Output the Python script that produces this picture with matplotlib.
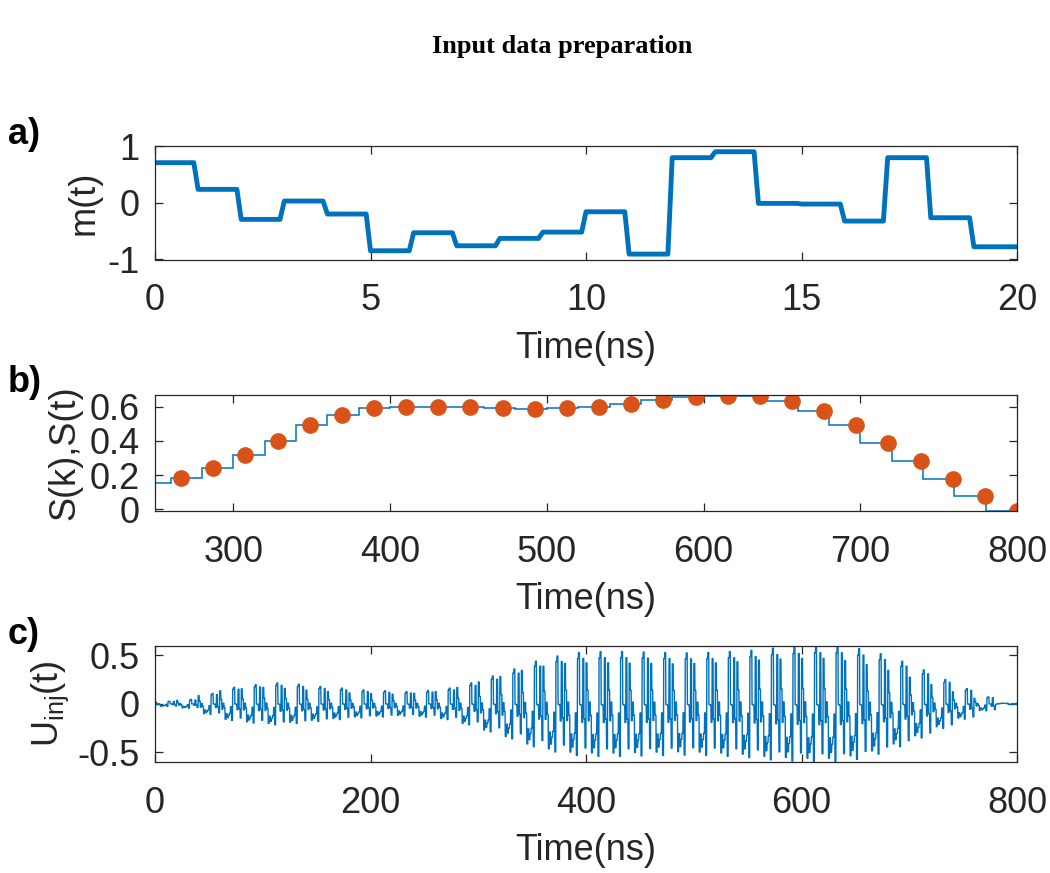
import numpy as np
import matplotlib
matplotlib.use("Agg")
import matplotlib.pyplot as plt

# ---------------- data ----------------
# mask levels m(t), one per ns (20 ns period)
mask_levels = [0.706, 0.236, -0.293, 0.030, -0.199, -0.846, -0.529, -0.758, -0.628, -0.517,
               -0.159, -0.905, 0.794, 0.899, -0.011, -0.023, -0.323, 0.794, -0.264, -0.776]
mask_period = 20.0        # ns
mask_step = 1.0           # ns per mask entry

# input samples S(k), one per 20 ns hold interval (k = 0..39)
S_levels = [0.03, 0.05, 0.12, 0.19, 0.22, 0.24, 0.225, 0.20, 0.18, 0.16,
            0.15, 0.14, 0.152, 0.18, 0.24, 0.32, 0.40, 0.49, 0.55, 0.59,
            0.60, 0.60, 0.595, 0.59, 0.585, 0.59, 0.60, 0.615, 0.64, 0.655,
            0.665, 0.665, 0.635, 0.575, 0.49, 0.39, 0.28, 0.175, 0.08, -0.008]
total_time = 800.0        # ns
first_shown_sample = 13   # S(k) markers shown for k >= 13

xticks_a = [0, 5, 10, 15, 20]
xticks_b = [300, 400, 500, 600, 700, 800]
xticks_c = [0, 200, 400, 600, 800]
yticks_a = [-1, 0, 1]
yticks_b = [0, 0.2, 0.4, 0.6]
yticks_c = [-0.5, 0, 0.5]

# ---------------- derived signals ----------------
dt = 0.1
n_mask = len(mask_levels)
t_a = np.arange(0, mask_period + dt / 2, dt)
idx_a = np.minimum((t_a / mask_step + 1e-9).astype(int), n_mask - 1)
m_t = np.array(mask_levels)[idx_a]

n_S = len(S_levels)
hold = total_time / n_S
t_c = np.arange(0, total_time + dt / 2, dt)
kS = np.minimum((t_c / hold + 1e-9).astype(int), n_S - 1)
km = np.minimum(((t_c % mask_period) / mask_step + 1e-9).astype(int), n_mask - 1)
U = np.array(S_levels)[kS] * np.array(mask_levels)[km]

edges_b = np.arange(n_S + 1) * hold
k_pts = np.arange(first_shown_sample, n_S)
t_pts = k_pts * total_time / (n_S - 1)
S_pts = np.array(S_levels)[k_pts]

# ---------------- style ----------------
plt.rcParams['font.family'] = ['Liberation Sans', 'DejaVu Sans']
plt.rcParams['axes.unicode_minus'] = False
axcol = '#262626'
blue = '#0072BD'
orange = '#D95319'
fs = 26

W, H = 1050, 873
fig = plt.figure(figsize=(W / 100, H / 100), dpi=100)

def make_ax(top, bottom):
    ax = fig.add_axes([155 / W, (H - bottom) / H, 862 / W, (bottom - top) / H])
    for s in ax.spines.values():
        s.set_color(axcol)
        s.set_linewidth(0.9)
    ax.tick_params(direction='in', length=6, width=0.9, colors=axcol,
                   top=True, right=True, labelsize=fs)
    ax.tick_params(axis='x', pad=17)
    ax.tick_params(axis='y', pad=11)
    return ax

ax_a = make_ax(146, 259.5)
ax_a.plot(t_a, m_t, color=blue, lw=3.5)
ax_a.set_xlim(0, 20)
ax_a.set_ylim(-1, 1)
ax_a.set_xticks(xticks_a)
ax_a.set_yticks(yticks_a)
ax_a.set_yticklabels(['-1', '0', '1'])
ax_a.set_ylabel('m(t)', fontsize=fs, color=axcol, labelpad=4)
ax_a.set_xlabel('Time(ns)', fontsize=fs, color=axcol, labelpad=9)

ax_b = make_ax(395, 511)
ax_b.stairs(S_levels, edges_b, color=blue, lw=1.1, baseline=None)
ax_b.plot(t_pts, S_pts, 'o', color=orange, ms=11, mec=orange)
ax_b.set_xlim(250, 800)
ax_b.set_ylim(-0.01, 0.668)
ax_b.set_xticks(xticks_b)
ax_b.set_yticks(yticks_b)
ax_b.set_yticklabels(['0', '0.2', '0.4', '0.6'])
ax_b.set_ylabel('S(k),S(t)', fontsize=fs, color=axcol, labelpad=5)
ax_b.set_xlabel('Time(ns)', fontsize=fs, color=axcol, labelpad=9)

ax_c = make_ax(646, 762)
ax_c.plot(t_c, U, color=blue, lw=1.0)
ax_c.set_xlim(0, 800)
ax_c.set_ylim(U.min(), U.max())
ax_c.set_xticks(xticks_c)
ax_c.set_yticks(yticks_c)
ax_c.set_yticklabels(['-0.5', '0', '0.5'])
ax_c.set_ylabel(r'U$_{\mathregular{inj}}$(t)', fontsize=fs, color=axcol, labelpad=5)
ax_c.set_xlabel('Time(ns)', fontsize=fs, color=axcol, labelpad=9)

for lbl, y in [('a)', 134), ('b)', 383), ('c)', 634)]:
    fig.text(8 / W, 1 - y / H, lbl, fontsize=fs, fontweight='bold', color='black',
             ha='left', va='center')

fig.text(562 / W, 1 - 46 / H, 'Input data preparation', fontsize=19, fontweight='bold',
         family='Liberation Serif', ha='center', va='center', color='black')

fig.savefig('out.png', dpi=100)
